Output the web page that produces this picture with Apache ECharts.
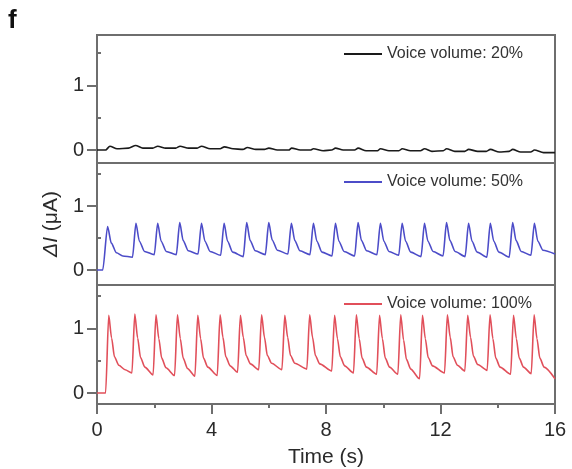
<!DOCTYPE html>
<html><head><meta charset="utf-8">
<script src="https://cdn.jsdelivr.net/npm/echarts@6/dist/echarts.min.js"></script>
<style>html,body{margin:0;padding:0;background:#fff}#c{width:572px;height:469px}</style>
</head><body><div id="c"></div>
<script>
const seriesNames = ['Voice volume: 20%', 'Voice volume: 50%', 'Voice volume: 100%'];
const xTickLabels = [0, 4, 8, 12, 16];
const yTickLabels = [0, 1];
const yMinorTicks = [0.5, 1.5];

// [time (s), ΔI (μA)]
const vol20 = [
[0,0],[0.3,0],[0.45,0.06],[0.7,0.02],[1.1,0.03],[1.35,0.07],[1.6,0.03],[1.95,0.03],[2.12,0.06],[2.4,0.03],
[2.75,0.03],[2.9,0.06],[3.2,0.03],[3.5,0.03],[3.65,0.06],[3.95,0.02],[4.3,0.02],[4.45,0.05],[4.75,0.02],
[5.1,0.01],[5.25,0.04],[5.55,0.01],[5.85,0.01],[6.0,0.03],[6.3,0.0],[6.7,0.0],[6.8,0.03],[7.1,0.0],
[7.45,0.0],[7.56,0.02],[7.9,-0.01],[8.2,0.0],[8.33,0.03],[8.6,0.0],[9.0,0.0],[9.12,0.03],[9.4,-0.01],
[9.8,-0.01],[9.9,0.02],[10.2,-0.01],[10.55,-0.01],[10.66,0.02],[10.95,-0.01],[11.3,-0.01],[11.44,0.02],
[11.7,-0.02],[12.1,-0.01],[12.21,0.02],[12.5,-0.02],[12.85,-0.02],[12.98,0.01],[13.3,-0.02],[13.6,-0.02],
[13.74,0.01],[14.05,-0.03],[14.4,-0.02],[14.52,0.01],[14.8,-0.03],[15.15,-0.03],[15.28,0.0],[15.6,-0.04],[16,-0.04]
];

const vol50 = [
[0,0],[0.2,0],[0.37,0.68],[0.5,0.42],[0.68,0.27],[0.9,0.22],[1.24,0.2],
[1.36,0.73],[1.48,0.45],[1.66,0.29],[2.0,0.24],
[2.12,0.73],[2.24,0.45],[2.42,0.29],[2.77,0.24],
[2.89,0.74],[3.01,0.46],[3.19,0.3],[3.53,0.25],
[3.65,0.73],[3.77,0.45],[3.95,0.29],[4.32,0.23],
[4.44,0.73],[4.56,0.45],[4.74,0.28],[5.11,0.21],
[5.23,0.74],[5.35,0.46],[5.53,0.3],[5.88,0.24],
[6.0,0.74],[6.12,0.47],[6.3,0.31],[6.67,0.25],
[6.79,0.73],[6.91,0.46],[7.09,0.3],[7.44,0.24],
[7.56,0.73],[7.68,0.45],[7.86,0.28],[8.21,0.22],
[8.33,0.73],[8.45,0.45],[8.63,0.29],[9.0,0.22],
[9.12,0.74],[9.24,0.46],[9.42,0.3],[9.78,0.24],
[9.9,0.73],[10.02,0.45],[10.2,0.29],[10.54,0.23],
[10.66,0.73],[10.78,0.45],[10.96,0.28],[11.32,0.21],
[11.44,0.73],[11.56,0.45],[11.74,0.29],[12.09,0.22],
[12.21,0.74],[12.33,0.46],[12.51,0.29],[12.86,0.21],
[12.98,0.73],[13.1,0.45],[13.28,0.28],[13.62,0.2],
[13.74,0.73],[13.86,0.45],[14.04,0.28],[14.4,0.2],
[14.52,0.74],[14.64,0.46],[14.82,0.29],[15.16,0.23],
[15.28,0.73],[15.4,0.45],[15.58,0.31],[16,0.25]
];

const vol100 = [
[0,0],[0.3,0],[0.41,1.2],[0.51,0.85],[0.61,0.56],[0.76,0.43],[0.98,0.36],[1.22,0.31],
[1.32,1.22],[1.42,0.85],[1.52,0.55],[1.67,0.4],[1.96,0.28],
[2.06,1.21],[2.16,0.84],[2.26,0.54],[2.41,0.39],[2.71,0.27],
[2.81,1.21],[2.91,0.84],[3.01,0.54],[3.16,0.38],[3.42,0.26],
[3.52,1.2],[3.62,0.84],[3.72,0.54],[3.87,0.4],[4.2,0.27],
[4.30,1.21],[4.40,0.86],[4.50,0.56],[4.65,0.42],[4.91,0.32],
[5.01,1.2],[5.11,0.86],[5.21,0.58],[5.36,0.45],[5.65,0.36],
[5.75,1.21],[5.85,0.86],[5.95,0.58],[6.1,0.46],[6.46,0.36],
[6.56,1.2],[6.66,0.86],[6.76,0.58],[6.91,0.46],[7.33,0.37],
[7.43,1.21],[7.53,0.86],[7.63,0.58],[7.78,0.45],[8.2,0.34],
[8.30,1.2],[8.40,0.84],[8.50,0.56],[8.65,0.42],[8.96,0.31],
[9.06,1.21],[9.16,0.84],[9.26,0.54],[9.41,0.4],[9.77,0.29],
[9.87,1.2],[9.97,0.84],[10.07,0.54],[10.22,0.4],[10.51,0.29],
[10.61,1.21],[10.71,0.82],[10.81,0.52],[10.96,0.37],[11.27,0.22],
[11.37,1.2],[11.47,0.84],[11.57,0.55],[11.72,0.42],[12.14,0.31],
[12.24,1.21],[12.34,0.86],[12.44,0.56],[12.59,0.43],[12.85,0.34],
[12.95,1.2],[13.05,0.86],[13.15,0.57],[13.3,0.44],[13.63,0.35],
[13.73,1.21],[13.83,0.84],[13.93,0.54],[14.08,0.4],[14.45,0.29],
[14.55,1.2],[14.65,0.84],[14.75,0.54],[14.9,0.4],[15.17,0.3],
[15.27,1.21],[15.37,0.84],[15.47,0.54],[15.62,0.4],[16,0.22]
];

const FONT = '"Liberation Sans", Arial, sans-serif';
const AX = '#6e6e6e';
const colors = ['#1a1a1a', '#4c4cc8', '#e14f5a'];
const panels = [vol20, vol50, vol100];
const gridBox = [{top: 35, height: 128}, {top: 163, height: 122}, {top: 285, height: 119}];
const yRange = [[-0.2, 1.78], [-0.234, 1.672], [-0.17, 1.67]];

const grid = [], xAxis = [], yAxis = [], series = [], legend = [];
panels.forEach((d, i) => {
  grid.push({left: 97, right: 17, top: gridBox[i].top, height: gridBox[i].height,
    show: true, borderColor: AX, borderWidth: 2, backgroundColor: 'transparent'});
  const last = i === 2;
  xAxis.push({
    type: 'value', gridIndex: i, min: 0, max: 16, interval: 4,
    axisLine: {show: last, onZero: false, lineStyle: {color: AX, width: 2}},
    axisTick: {show: last, length: 10, lineStyle: {color: AX, width: 2}},
    minorTick: {show: last, splitNumber: 2, length: 4, lineStyle: {color: AX, width: 2}},
    axisLabel: {show: last, fontSize: 20, color: '#2a2a2a', margin: 16, fontFamily: FONT,
      formatter: v => xTickLabels.includes(v) ? String(v) : ''},
    splitLine: {show: false},
    name: last ? 'Time (s)' : '', nameLocation: 'middle', nameGap: 43,
    nameTextStyle: {fontSize: 21, color: '#2a2a2a', fontFamily: FONT}
  });
  yAxis.push({
    type: 'value', gridIndex: i, min: yRange[i][0], max: yRange[i][1],
    axisLine: {show: true, onZero: false, lineStyle: {color: AX, width: 2}},
    axisTick: {show: true, length: 10, customValues: yTickLabels, lineStyle: {color: AX, width: 2}},
    axisLabel: {show: true, customValues: yTickLabels, fontSize: 20, color: '#2a2a2a', margin: 13, fontFamily: FONT},
    splitLine: {show: false}
  });
  yAxis.push({
    type: 'value', gridIndex: i, min: yRange[i][0], max: yRange[i][1],
    axisLine: {show: false},
    axisTick: {show: true, length: 4, customValues: yMinorTicks, lineStyle: {color: AX, width: 2}},
    axisLabel: {show: false},
    splitLine: {show: false}
  });
  series.push({
    name: seriesNames[i], type: 'line', xAxisIndex: i, yAxisIndex: 2 * i,
    data: d, showSymbol: false, smooth: 0.25, smoothMonotone: 'x',
    lineStyle: {color: colors[i], width: 1.6}, itemStyle: {color: colors[i]},
    animation: false
  });
  legend.push({
    data: [seriesNames[i]], left: 344, top: gridBox[i].top + 11, padding: 0,
    icon: 'rect', itemWidth: 38, itemHeight: 2, itemGap: 0,
    textStyle: {fontSize: 16, color: '#333', fontFamily: FONT, lineHeight: 16}
  });
});

const chart = echarts.init(document.getElementById('c'));
chart.setOption({
  animation: false,
  backgroundColor: '#fff',
  grid, xAxis, yAxis, series, legend,
  graphic: [
    {type: 'text', left: 8, top: 8, style: {text: 'f', fontSize: 26, fontWeight: 'bold', fill: '#111', fontFamily: FONT}},
    {type: 'text', x: 51, y: 224, rotation: Math.PI / 2,
      style: {text: '{a|ΔI} (μA)', fontSize: 21, fill: '#2a2a2a', fontFamily: FONT,
        align: 'center', verticalAlign: 'middle',
        rich: {a: {fontStyle: 'italic', fontSize: 21, fill: '#2a2a2a', fontFamily: FONT}}}}
  ]
});
</script>
</body></html>
